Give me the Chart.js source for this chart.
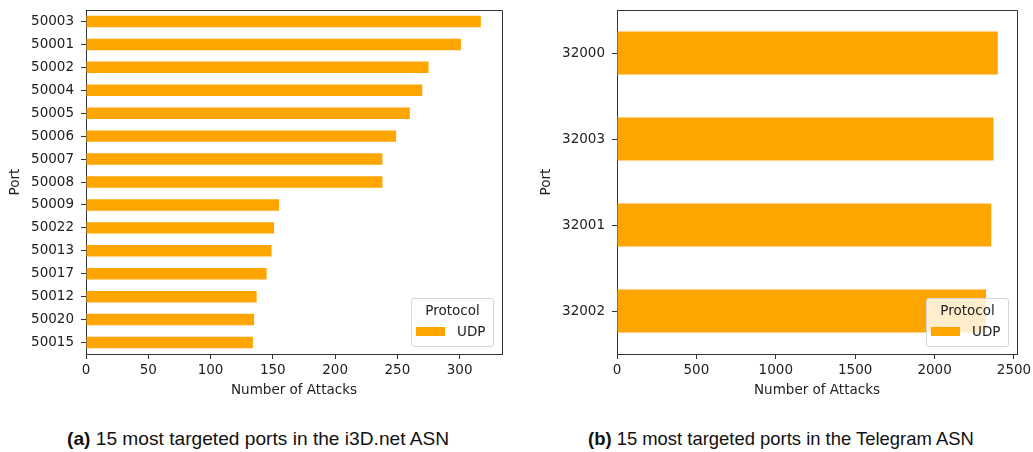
<!DOCTYPE html>
<html>
<head>
<meta charset="utf-8">
<script src="https://cdn.jsdelivr.net/npm/chart.js@4"></script>
<style>
  body { margin: 0; width: 1033px; height: 452px; background: #fff; position: relative; overflow: hidden; font-family: "DejaVu Sans"; }
  .panel { position: absolute; top: 0; }
  .legend { position: absolute; width: 81px; height: 47px; border: 1px solid #d6d6d6; border-radius: 3px; background: rgba(255,255,255,0.8); font-size: 13.5px; color: #222; }
  .legend .ttl { position: absolute; left: 0; right: 0; top: 3px; text-align: center; }
  .legend .patch { position: absolute; left: 4px; top: 28px; width: 29px; height: 9px; }
  .legend .lbl { position: absolute; left: 45px; top: 24px; }
  .caption { position: absolute; top: 429px; font-family: "Liberation Sans"; font-size: 19px; line-height: 19px; color: #111; white-space: nowrap; transform-origin: left top; }
</style>
</head>
<body>
<canvas id="chartA" class="panel" width="520" height="410" style="left:0px"></canvas>
<canvas id="chartB" class="panel" width="502" height="410" style="left:531px"></canvas>
<div id="legendA" class="legend" style="left:411px; top:298px"></div>
<div id="legendB" class="legend" style="left:926px; top:298px"></div>
<div class="caption" id="capA" style="left:67px"><b>(a)</b> 15 most targeted ports in the i3D.net ASN</div>
<div class="caption" id="capB" style="left:588px"><b>(b)</b> 15 most targeted ports in the Telegram ASN</div>
<script>
// i3D.net ASN
const portsA = ['50003', '50001', '50002', '50004', '50005', '50006', '50007', '50008',
                '50009', '50022', '50013', '50017', '50012', '50020', '50015'];
const attacksA = [317, 301, 275, 270, 260, 249, 238, 238, 155, 151, 149, 145, 137, 135, 134];
const ticksA = [0, 50, 100, 150, 200, 250, 300];

// Telegram ASN
const portsB = ['32000', '32003', '32001', '32002'];
const attacksB = [2398, 2371, 2357, 2324];
const ticksB = [0, 500, 1000, 1500, 2000, 2500];

const protocol = 'UDP';
const barColor = '#FFA500';
const txt = '#222';
const lineCol = '#333';

// rahmen oben und rechts wie bei matplotlib
const boxPlugin = {
  id: 'box',
  afterDraw(chart) {
    const a = chart.chartArea;
    const c = chart.ctx;
    c.save();
    c.strokeStyle = lineCol;
    c.lineWidth = 1;
    c.beginPath();
    c.moveTo(Math.round(a.left) + 0.5, Math.round(a.top) + 0.5);
    c.lineTo(Math.round(a.right) + 0.5, Math.round(a.top) + 0.5);
    c.lineTo(Math.round(a.right) + 0.5, Math.round(a.bottom) + 0.5);
    c.stroke();
    c.restore();
  }
};

function makeChart(id, labels, values, xMax, tickVals, padRight) {
  const font = { family: 'DejaVu Sans', size: 13.5 };
  return new Chart(document.getElementById(id), {
    type: 'bar',
    data: {
      labels: labels,
      datasets: [{
        label: protocol,
        data: values,
        backgroundColor: barColor,
        borderWidth: 0,
        categoryPercentage: 1,
        barPercentage: 0.5
      }]
    },
    options: {
      indexAxis: 'y',
      responsive: false,
      animation: false,
      layout: { padding: { top: 10, right: padRight, left: 0, bottom: 0 } },
      plugins: { legend: { display: false }, tooltip: { enabled: false } },
      scales: {
        x: {
          min: 0,
          max: xMax,
          ticks: { color: txt, font: font, padding: 3, maxRotation: 0, autoSkip: false, callback: v => String(v) },
          afterBuildTicks: s => { s.ticks = tickVals.map(v => ({ value: v })); },
          afterFit: s => { s.height = 56; s.paddingLeft = 0; s.paddingRight = 0; },
          grid: { drawOnChartArea: false, drawTicks: true, tickLength: 5, color: lineCol },
          border: { color: lineCol, width: 1 },
          title: { display: true, text: 'Number of Attacks', color: txt, font: font, padding: { top: 0, bottom: 11 } }
        },
        y: {
          ticks: { color: txt, font: font, padding: 7 },
          afterFit: s => { s.width = 86; s.paddingTop = 0; s.paddingBottom = 0; },
          grid: { offset: false, drawOnChartArea: false, drawTicks: true, tickLength: 5, color: lineCol },
          border: { color: lineCol, width: 1 },
          title: { display: true, text: 'Port', color: txt, font: font, padding: { top: 7, bottom: 0 } }
        }
      }
    },
    plugins: [boxPlugin]
  });
}

const chartA = makeChart('chartA', portsA, attacksA, 334, ticksA, 18);
const chartB = makeChart('chartB', portsB, attacksB, 2519, ticksB, 16);

function fillLegend(id, chart) {
  const ds = chart.data.datasets[0];
  const el = document.getElementById(id);
  el.innerHTML = '<div class="ttl">Protocol</div><div class="patch" style="background:' + ds.backgroundColor + '"></div><div class="lbl">' + ds.label + '</div>';
}
fillLegend('legendA', chartA);
fillLegend('legendB', chartB);

// bildunterschriften etwas schmaler wie im original
[['capA', 382], ['capB', 386]].forEach(([id, w]) => {
  const el = document.getElementById(id);
  el.style.transform = 'scaleX(' + (w / el.offsetWidth) + ')';
});
</script>
</body>
</html>
